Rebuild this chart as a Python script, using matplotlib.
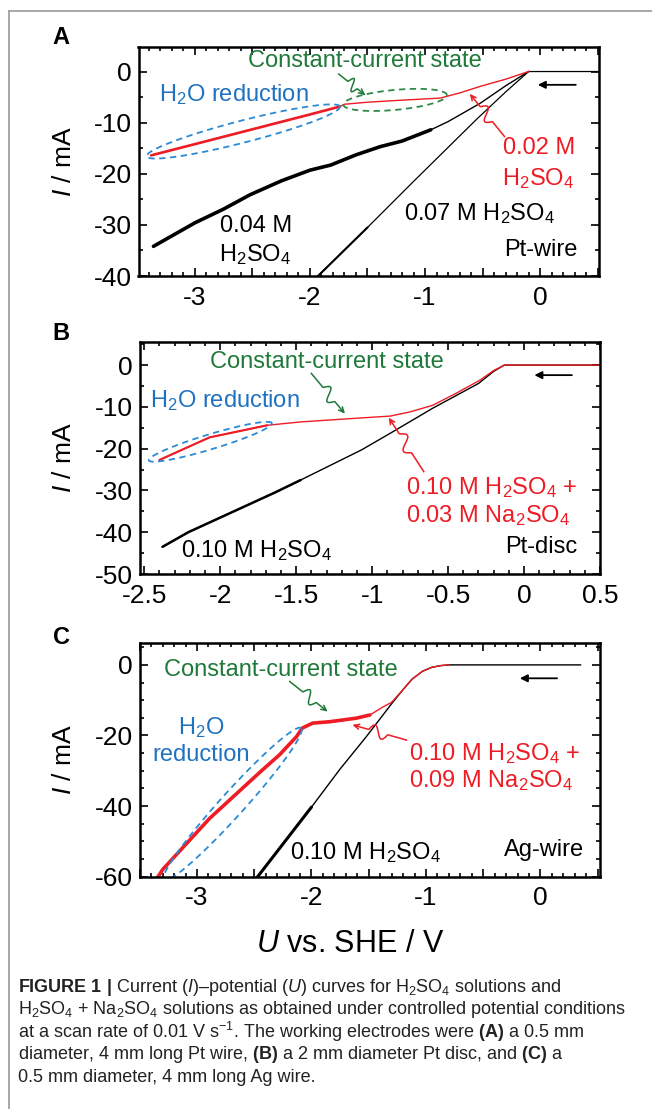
import numpy as np
import matplotlib
matplotlib.use("Agg")
import matplotlib.pyplot as plt
from matplotlib.ticker import MultipleLocator, FuncFormatter
from matplotlib.lines import Line2D

plt.rcParams.update({
    "font.family": ["Liberation Sans", "DejaVu Sans"],
    "mathtext.fontset": "custom",
    "mathtext.rm": "Liberation Sans",
    "mathtext.it": "Liberation Sans:italic",
    "mathtext.bf": "Liberation Sans:bold",
    "axes.unicode_minus": False,
})

# ---- data: potential U (V vs SHE), current I (mA) ----
# (A) Pt wire
a07_u = [0.5, -0.10, -0.30, -0.55, -1.10, -1.50, -1.93, -2.0]
a07_i = [0.0, 0.0, -4.0, -9.3, -21.5, -30.5, -40.0, -41.5]
a04_u = [-0.10, -0.30, -0.52, -0.80, -0.95, -1.20, -1.39, -1.60, -1.82, -2.00, -2.25, -2.52, -2.75, -3.00, -3.36]
a04_i = [0.0, -2.8, -6.2, -9.8, -11.4, -13.6, -14.7, -16.3, -18.3, -19.3, -21.4, -24.1, -26.9, -29.6, -34.2]
a02_u = [-0.10, -0.30, -0.52, -0.70, -0.87, -1.20, -1.50, -1.70, -1.74, -2.00, -2.50, -3.00, -3.38]
a02_i = [0.0, -1.5, -2.9, -4.2, -5.2, -5.6, -6.0, -6.4, -6.85, -8.4, -11.3, -14.2, -16.4]

# (B) Pt disc
b10_u = [0.5, -0.13, -0.20, -0.30, -0.60, -0.88, -1.07, -1.47, -1.64, -2.21, -2.38]
b10_i = [0.0, 0.0, -1.5, -4.4, -10.3, -16.3, -20.3, -27.5, -30.5, -40.0, -43.5]
b10na_u = [0.5, -0.13, -0.20, -0.29, -0.45, -0.60, -0.75, -0.88, -1.18, -1.47, -1.69, -2.07, -2.40]
b10na_i = [0.0, 0.0, -1.3, -3.6, -6.8, -9.6, -11.2, -12.2, -12.9, -13.6, -14.4, -17.3, -22.7]

# (C) Ag wire
c10_u = [0.35, -0.80, -0.87, -0.95, -1.03, -1.12, -1.20, -1.30, -1.52, -1.75, -2.00, -2.47, -2.50]
c10_i = [0.0, 0.0, -0.2, -0.7, -1.8, -4.0, -7.0, -11.0, -20.3, -29.5, -40.3, -60.0, -61.5]
c10na_u = [-0.80, -0.87, -0.95, -1.03, -1.12, -1.20, -1.30, -1.38, -1.49, -1.61, -1.84, -1.99, -2.08,
           -2.13, -2.28, -2.44, -2.89, -3.30, -3.36]
c10na_i = [0.0, -0.2, -0.7, -1.8, -4.0, -7.0, -10.6, -12.0, -14.2, -15.1, -16.1, -16.5, -17.9,
           -20.3, -25.5, -30.1, -43.5, -58.0, -61.0]

RED = "#ee1c24"
GREEN = "#1f7a3a"
BLUE = "#1f72c0"
EBLUE = "#2a8ad6"
EGREEN = "#2f8a47"

W, H = 652, 1109
fig = plt.figure(figsize=(W / 100, H / 100), dpi=100)


def px_axes(l, t, r, b):
    return fig.add_axes([l / W, 1 - b / H, (r - l) / W, (b - t) / H])


def style(ax, xmaj, ymaj, int_labels):
    for s in ax.spines.values():
        s.set_linewidth(1.8)
    ax.xaxis.set_major_locator(MultipleLocator(xmaj))
    ax.xaxis.set_minor_locator(MultipleLocator(0.1))
    ax.yaxis.set_major_locator(MultipleLocator(ymaj))
    ax.yaxis.set_minor_locator(MultipleLocator(5))
    if int_labels:
        ax.xaxis.set_major_formatter(FuncFormatter(
            lambda v, p: "%d" % round(v) if abs(v - round(v)) < 1e-6 else ""))
    else:
        ax.xaxis.set_major_formatter(FuncFormatter(lambda v, p: "%g" % round(v, 2)))
    ax.yaxis.set_major_formatter(FuncFormatter(lambda v, p: "%d" % round(v)))
    ax.tick_params(which="both", direction="in", top=True, right=True, width=1.2,
                   labelsize=19)
    ax.tick_params(which="major", length=6)
    ax.tick_params(which="minor", length=3)
    ax.tick_params(axis="x", pad=7)
    ax.tick_params(axis="y", pad=5)


def curve(ax, u, i, color, cut, lw_thin, lw_thick):
    u = np.asarray(u)
    i = np.asarray(i)
    ax.plot(u, i, color=color, lw=lw_thin, solid_joinstyle="round")
    m = u <= cut
    ax.plot(u[m], i[m], color=color, lw=lw_thick, solid_joinstyle="round",
            solid_capstyle="round")


def ellipse(ax, p1, p2, minor, color):
    P = ax.transData.transform([p1, p2])
    c = P.mean(axis=0)
    d = P[1] - P[0]
    L = np.hypot(*d)
    e1 = d / L
    e2 = np.array([-e1[1], e1[0]])
    t = np.linspace(0, 2 * np.pi, 240)
    pts = c + np.outer(np.cos(t) * L / 2, e1) + np.outer(np.sin(t) * minor / 2, e2)
    q = ax.transData.inverted().transform(pts)
    ax.plot(q[:, 0], q[:, 1], color=color, lw=1.3, ls=(0, (3.5, 2.5)))


def squiggle(ax, p0, p1, color, amp=6):
    P0, P1 = ax.transData.transform([p0, p1])
    d = P1 - P0
    L = np.hypot(*d)
    n = np.array([-d[1], d[0]]) / L
    s = np.linspace(0, 1, 120)
    off = np.where((s > 0.35) & (s < 0.7), amp * np.sin(2 * np.pi * (s - 0.35) / 0.35), 0)
    pts = P0 + np.outer(s, d) + np.outer(off, n)
    q = ax.transData.inverted().transform(pts)
    ax.plot(q[:-4, 0], q[:-4, 1], color=color, lw=1.1)
    ax.annotate("", xy=q[-1], xytext=q[-12],
                arrowprops=dict(arrowstyle="->", color=color, lw=1.1, mutation_scale=9,
                                shrinkA=0, shrinkB=0))


def scan_arrow(ax, x0, x1, y):
    ax.annotate("", xy=(x1, y), xytext=(x0, y),
                arrowprops=dict(arrowstyle="-|>", color="black", lw=1.3, mutation_scale=11,
                                shrinkA=0, shrinkB=0))


TS = 17

# ---------------- A ----------------
axA = px_axes(138.5, 47, 598.8, 276)
axA.set_xlim(-3.49, 0.51)
axA.set_ylim(-40, 4.8)
style(axA, 0.5, 10, True)
curve(axA, a07_u, a07_i, "black", -1.45, 0.9, 1.5)
curve(axA, a04_u, a04_i, "black", -0.9, 1.0, 2.6)
curve(axA, a02_u, a02_i, RED, -1.72, 1.0, 1.9)
ellipse(axA, (-3.42, -16.6), (-1.74, -6.85), 22, EBLUE)
ellipse(axA, (-1.71, -6.5), (-0.81, -4.6), 20, EGREEN)
squiggle(axA, (-1.75, -0.5), (-1.52, -4.6), GREEN)
squiggle(axA, (-0.31, -12.7), (-0.61, -4.4), RED)
scan_arrow(axA, 0.31, -0.02, -2.6)
axA.text(-1.52, 2.0, "Constant-current state", color=GREEN, fontsize=TS, ha="center", va="center")
axA.text(-2.66, -4.6, "H$_2$O reduction", color=BLUE, fontsize=TS, ha="center", va="center")
axA.text(-0.01, -14.9, "0.02 M", color=RED, fontsize=TS, ha="center", va="center")
axA.text(-0.02, -20.9, "H$_2$SO$_4$", color=RED, fontsize=TS, ha="center", va="center")
axA.text(-0.53, -27.8, "0.07 M H$_2$SO$_4$", fontsize=TS, ha="center", va="center")
axA.text(-2.47, -30.2, "0.04 M", fontsize=TS, ha="center", va="center")
axA.text(-2.48, -35.9, "H$_2$SO$_4$", fontsize=TS, ha="center", va="center")
axA.text(0.01, -34.9, "Pt-wire", fontsize=TS, ha="center", va="center")

# ---------------- B ----------------
axB = px_axes(139.7, 341.7, 600, 574)
axB.set_xlim(-2.53, 0.5)
axB.set_ylim(-50, 5.6)
style(axB, 0.5, 10, False)
curve(axB, b10_u, b10_i, "black", -1.3, 1.0, 1.8)
curve(axB, b10na_u, b10na_i, RED, -1.6, 1.0, 1.5)
ellipse(axB, (-2.47, -22.8), (-1.66, -13.9), 15, EBLUE)
squiggle(axB, (-1.40, -2.0), (-1.18, -11.6), GREEN)
squiggle(axB, (-0.66, -25.5), (-0.89, -12.6), RED)
scan_arrow(axB, 0.315, 0.068, -2.4)
axB.text(-1.30, 0.8, "Constant-current state", color=GREEN, fontsize=TS, ha="center", va="center")
axB.text(-1.97, -8.6, "H$_2$O reduction", color=BLUE, fontsize=TS, ha="center", va="center")
axB.text(-0.78, -29.3, "0.10 M H$_2$SO$_4$ +", color=RED, fontsize=TS, ha="left", va="center")
axB.text(-0.78, -36.1, "0.03 M Na$_2$SO$_4$", color=RED, fontsize=TS, ha="left", va="center")
axB.text(-1.76, -44.5, "0.10 M H$_2$SO$_4$", fontsize=TS, ha="center", va="center")
axB.text(0.11, -43.5, "Pt-disc", fontsize=TS, ha="center", va="center")

# ---------------- C ----------------
axC = px_axes(139.7, 643, 600, 876.7)
axC.set_xlim(-3.5, 0.52)
axC.set_ylim(-60, 6.2)
style(axC, 0.5, 20, True)
curve(axC, c10_u, c10_i, "black", -1.8, 1.0, 2.2)
curve(axC, c10na_u, c10na_i, RED, -1.4, 1.0, 2.6)
ellipse(axC, (-3.29, -61.0), (-2.09, -17.9), 24, EBLUE)
squiggle(axC, (-2.19, -4.7), (-1.86, -13.2), GREEN)
squiggle(axC, (-1.17, -21.3), (-1.64, -17.0), RED)
scan_arrow(axC, 0.145, -0.18, -3.8)
axC.text(-2.27, -1.4, "Constant-current state", color=GREEN, fontsize=TS, ha="center", va="center")
axC.text(-2.96, -17.8, "H$_2$O", color=BLUE, fontsize=TS, ha="center", va="center")
axC.text(-2.96, -25.5, "reduction", color=BLUE, fontsize=TS, ha="center", va="center")
axC.text(-1.15, -25.2, "0.10 M H$_2$SO$_4$ +", color=RED, fontsize=TS, ha="left", va="center")
axC.text(-1.15, -32.8, "0.09 M Na$_2$SO$_4$", color=RED, fontsize=TS, ha="left", va="center")
axC.text(-1.53, -53.1, "0.10 M H$_2$SO$_4$", fontsize=TS, ha="center", va="center")
axC.text(0.03, -52.5, "Ag-wire", fontsize=TS, ha="center", va="center")

# ---------------- figure texts ----------------
for lab, y, yc in [("A", 37, 161.5), ("B", 333, 458), ("C", 637, 760)]:
    fig.text(61 / W, 1 - y / H, lab, fontsize=17, fontweight="bold", ha="center", va="center")
    fig.text(64 / W, 1 - yc / H, r"$\mathit{I}$ / mA", fontsize=19, rotation=90,
             ha="center", va="center")
fig.text(350 / W, 1 - 944 / H, r"$\mathit{U}$ vs. SHE / V", fontsize=22, ha="center", va="center")

caption = [
    r"$\mathbf{FIGURE\ 1\ |}$ Current ($\mathit{I}$)–potential ($\mathit{U}$) curves for H$_2$SO$_4$ solutions and",
    r"H$_2$SO$_4$ + Na$_2$SO$_4$ solutions as obtained under controlled potential conditions",
    r"at a scan rate of 0.01 V s$^{-1}$. The working electrodes were $\mathbf{(A)}$ a 0.5 mm",
    r"diameter, 4 mm long Pt wire, $\mathbf{(B)}$ a 2 mm diameter Pt disc, and $\mathbf{(C)}$ a",
    r"0.5 mm diameter, 4 mm long Ag wire.",
]
for k, line in enumerate(caption):
    fig.text(17.5 / W, 1 - (987 + 22.5 * k) / H, line, fontsize=13, ha="left", va="center",
             color="#222222")

# thin grey frame of the figure panel
fig.add_artist(Line2D([9 / W, 1], [1 - 11 / H, 1 - 11 / H], color="#a0a0a0", lw=1.3))
fig.add_artist(Line2D([9 / W, 9 / W], [0, 1 - 11 / H], color="#a0a0a0", lw=1.3))

fig.savefig("out.png", dpi=100)
